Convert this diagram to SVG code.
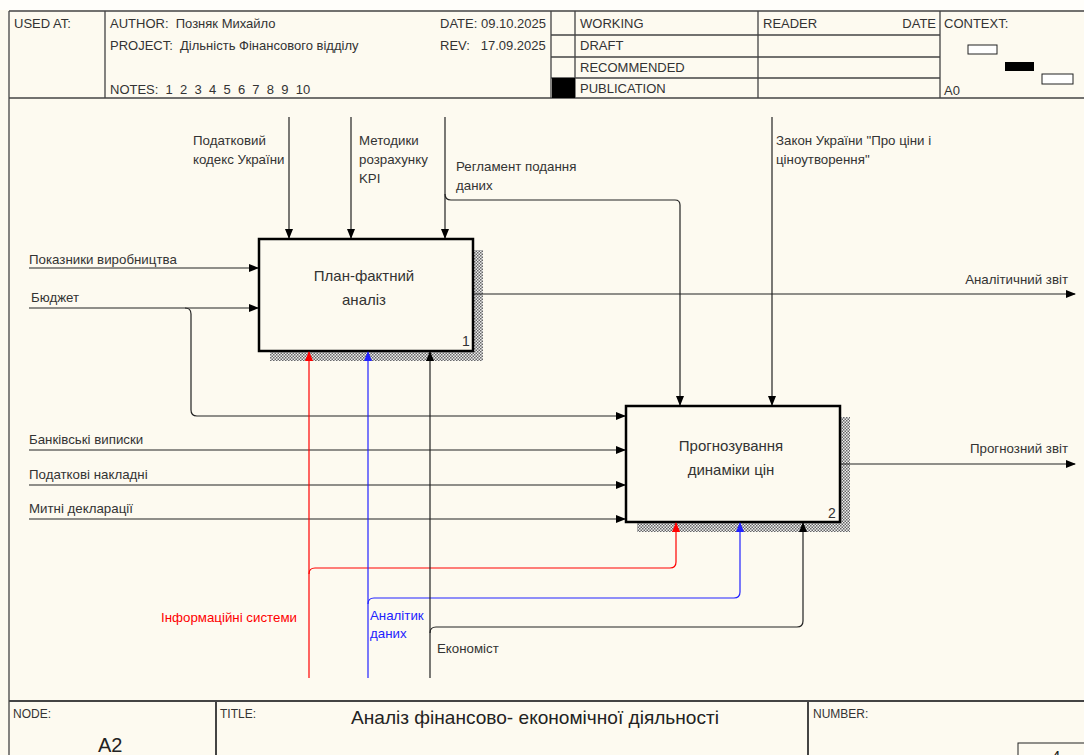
<svg xmlns="http://www.w3.org/2000/svg" width="1084" height="755" viewBox="0 0 1084 755">
<defs>
<style>
.t{font-family:"Liberation Sans",Arial,sans-serif;font-size:13.3px;fill:#333}
.h{font-family:"Liberation Sans",Arial,sans-serif;font-size:13px;fill:#333;white-space:pre}
.bt{font-family:"Liberation Sans",Arial,sans-serif;font-size:15px;fill:#333;text-anchor:middle}
.frame{fill:none;stroke:#444;stroke-width:1.3}
.ln{fill:none;stroke:#222;stroke-width:1.2}
.box{fill:#FDFAF0;stroke:#000;stroke-width:2.5}
</style>
<pattern id="hatch" width="3" height="3" patternUnits="userSpaceOnUse">
<rect width="3" height="3" fill="#eee"/>
<rect x="0" y="0" width="1.5" height="1.5" fill="#666"/>
<rect x="1.5" y="1.5" width="1.5" height="1.5" fill="#666"/>
</pattern>
<marker id="ab" markerWidth="10" markerHeight="8" refX="9" refY="4" orient="auto" markerUnits="userSpaceOnUse"><path d="M0,0 L10,4 L0,8 Z" fill="#000"/></marker>
<marker id="ar" markerWidth="10" markerHeight="8" refX="9" refY="4" orient="auto" markerUnits="userSpaceOnUse"><path d="M0,0 L10,4 L0,8 Z" fill="#f00"/></marker>
<marker id="au" markerWidth="10" markerHeight="8" refX="9" refY="4" orient="auto" markerUnits="userSpaceOnUse"><path d="M0,0 L10,4 L0,8 Z" fill="#22f"/></marker>
</defs>
<rect width="1084" height="755" fill="#FDFAF0"/>
<rect width="1084" height="10" fill="#FFFEFA"/>

<g id="header">
<path class="frame" d="M9,11 H1090 M9,11 V755 M9,98 H1090 M105,11 V98 M551,11 V98 M575,11 V98 M758,11 V98 M940,11 V98 M551,35 H940 M551,57 H940 M551,78 H940"/>
<rect x="552" y="78" width="23" height="20" fill="#000"/>
<text class="h" x="14" y="28">USED AT:</text>
<text class="h" x="110" y="28" xml:space="preserve">AUTHOR:  Позняк Михайло</text>
<text class="h" x="110" y="50" xml:space="preserve">PROJECT:  Дільність Фінансового відділу</text>
<text class="h" x="110" y="94" xml:space="preserve">NOTES:  1  2  3  4  5  6  7  8  9  10</text>
<text class="h" x="440" y="28">DATE: 09.10.2025</text>
<text class="h" x="440" y="50" xml:space="preserve">REV:   17.09.2025</text>
<text class="h" x="580" y="28">WORKING</text>
<text class="h" x="580" y="50">DRAFT</text>
<text class="h" x="580" y="72">RECOMMENDED</text>
<text class="h" x="580" y="93">PUBLICATION</text>
<text class="h" x="763" y="28">READER</text>
<text class="h" x="936" y="28" text-anchor="end">DATE</text>
<text class="h" x="944" y="28">CONTEXT:</text>
<rect x="968" y="45" width="29" height="9" fill="#fff" stroke="#222" stroke-width="1"/>
<rect x="1005" y="62" width="29" height="9" fill="#000"/>
<rect x="1042" y="74" width="31" height="10" fill="#fff" stroke="#222" stroke-width="1"/>
<text class="h" x="944" y="95">A0</text>
</g>

<g id="footer">
<path class="frame" d="M9,701 H1090 M216,701 V755 M808,701 V755" style="stroke-width:2"/>
<text class="h" x="13" y="718" style="font-size:12px">NODE:</text>
<text x="98" y="752" style="font-family:'Liberation Sans',Arial,sans-serif;font-size:20px;fill:#222">A2</text>
<text class="h" x="220" y="718" style="font-size:12px">TITLE:</text>
<text x="351" y="724" textLength="368" lengthAdjust="spacingAndGlyphs" style="font-family:'Liberation Sans',Arial,sans-serif;font-size:19px;fill:#222">Аналіз фінансово- економічної діяльності</text>
<text class="h" x="813" y="718" style="font-size:12px">NUMBER:</text>
<rect x="1018" y="743" width="80" height="20" fill="none" stroke="#222" stroke-width="1"/>
<text x="1052" y="761" style="font-family:'Liberation Sans',Arial,sans-serif;font-size:15px;fill:#222">4</text>
</g>

<g id="node1">
<path d="M473,250 H483 V361 H270 V351 H473 Z" fill="url(#hatch)"/>
<rect class="box" x="259" y="239" width="214" height="112"/>
<text class="bt" x="364" y="281">План-фактний</text>
<text class="bt" x="364" y="305">аналіз</text>
<text class="t" x="462" y="346" style="font-size:14px">1</text>
</g>

<g id="node2">
<path d="M840,417 H850 V532 H637 V522 H840 Z" fill="url(#hatch)"/>
<rect class="box" x="626" y="406" width="214" height="116"/>
<text class="bt" x="731" y="451">Прогнозування</text>
<text class="bt" x="731" y="475">динаміки цін</text>
<text class="t" x="828" y="518" style="font-size:14px">2</text>
</g>

<g id="connectors">
<path class="ln" d="M289,117 V238" marker-end="url(#ab)"/>
<path class="ln" d="M351,117 V238" marker-end="url(#ab)"/>
<path class="ln" d="M445,117 V238" marker-end="url(#ab)"/>
<path class="ln" d="M445,194 Q445,200 451,200 H675 Q680,200 680,205 V405" marker-end="url(#ab)"/>
<path class="ln" d="M772,117 V405" marker-end="url(#ab)"/>
<path class="ln" d="M29,268 H258" marker-end="url(#ab)"/>
<path class="ln" d="M29,308 H258" marker-end="url(#ab)"/>
<path class="ln" d="M185,308 Q191,308 191,314 V410 Q191,416 197,416 H625" marker-end="url(#ab)"/>
<path class="ln" d="M29,450 H625" marker-end="url(#ab)"/>
<path class="ln" d="M29,485 H625" marker-end="url(#ab)"/>
<path class="ln" d="M29,519 H625" marker-end="url(#ab)"/>
<path class="ln" d="M474,294 H1075" marker-end="url(#ab)"/>
<path class="ln" d="M841,464 H1075" marker-end="url(#ab)"/>
<path fill="none" stroke="#f00" stroke-width="1.2" d="M309,678 V352" marker-end="url(#ar)"/>
<path fill="none" stroke="#f00" stroke-width="1.2" d="M309,574 Q309,568 315,568 H670 Q676,568 676,562 V523" marker-end="url(#ar)"/>
<path fill="none" stroke="#22f" stroke-width="1.2" d="M368,678 V352" marker-end="url(#au)"/>
<path fill="none" stroke="#22f" stroke-width="1.2" d="M368,604 Q368,598 374,598 H734 Q740,598 740,592 V523" marker-end="url(#au)"/>
<path class="ln" d="M430,678 V352" marker-end="url(#ab)"/>
<path class="ln" d="M430,633 Q430,627 436,627 H797 Q803,627 803,621 V523" marker-end="url(#ab)"/>
<text class="t" x="193" y="145">Податковий</text>
<text class="t" x="193" y="164">кодекс України</text>
<text class="t" x="359" y="145">Методики</text>
<text class="t" x="359" y="164">розрахунку</text>
<text class="t" x="359" y="183">KPI</text>
<text class="t" x="456" y="171">Регламент подання</text>
<text class="t" x="456" y="190">даних</text>
<text class="t" x="776" y="145">Закон України "Про ціни і</text>
<text class="t" x="776" y="164">ціноутворення"</text>
<text class="t" x="29" y="264">Показники виробництва</text>
<text class="t" x="31" y="302">Бюджет</text>
<text class="t" x="29" y="444">Банківські виписки</text>
<text class="t" x="29" y="479">Податкові накладні</text>
<text class="t" x="29" y="513">Митні декларації</text>
<text class="t" x="1068" y="284" text-anchor="end">Аналітичний звіт</text>
<text class="t" x="1068" y="453" text-anchor="end">Прогнозний звіт</text>
<text class="t" x="297" y="622" text-anchor="end" style="fill:#f00">Інформаційні системи</text>
<text class="t" x="370" y="620" style="fill:#22f">Аналітик</text>
<text class="t" x="370" y="638" style="fill:#22f">даних</text>
<text class="t" x="437" y="653">Економіст</text>
</g>
</svg>
